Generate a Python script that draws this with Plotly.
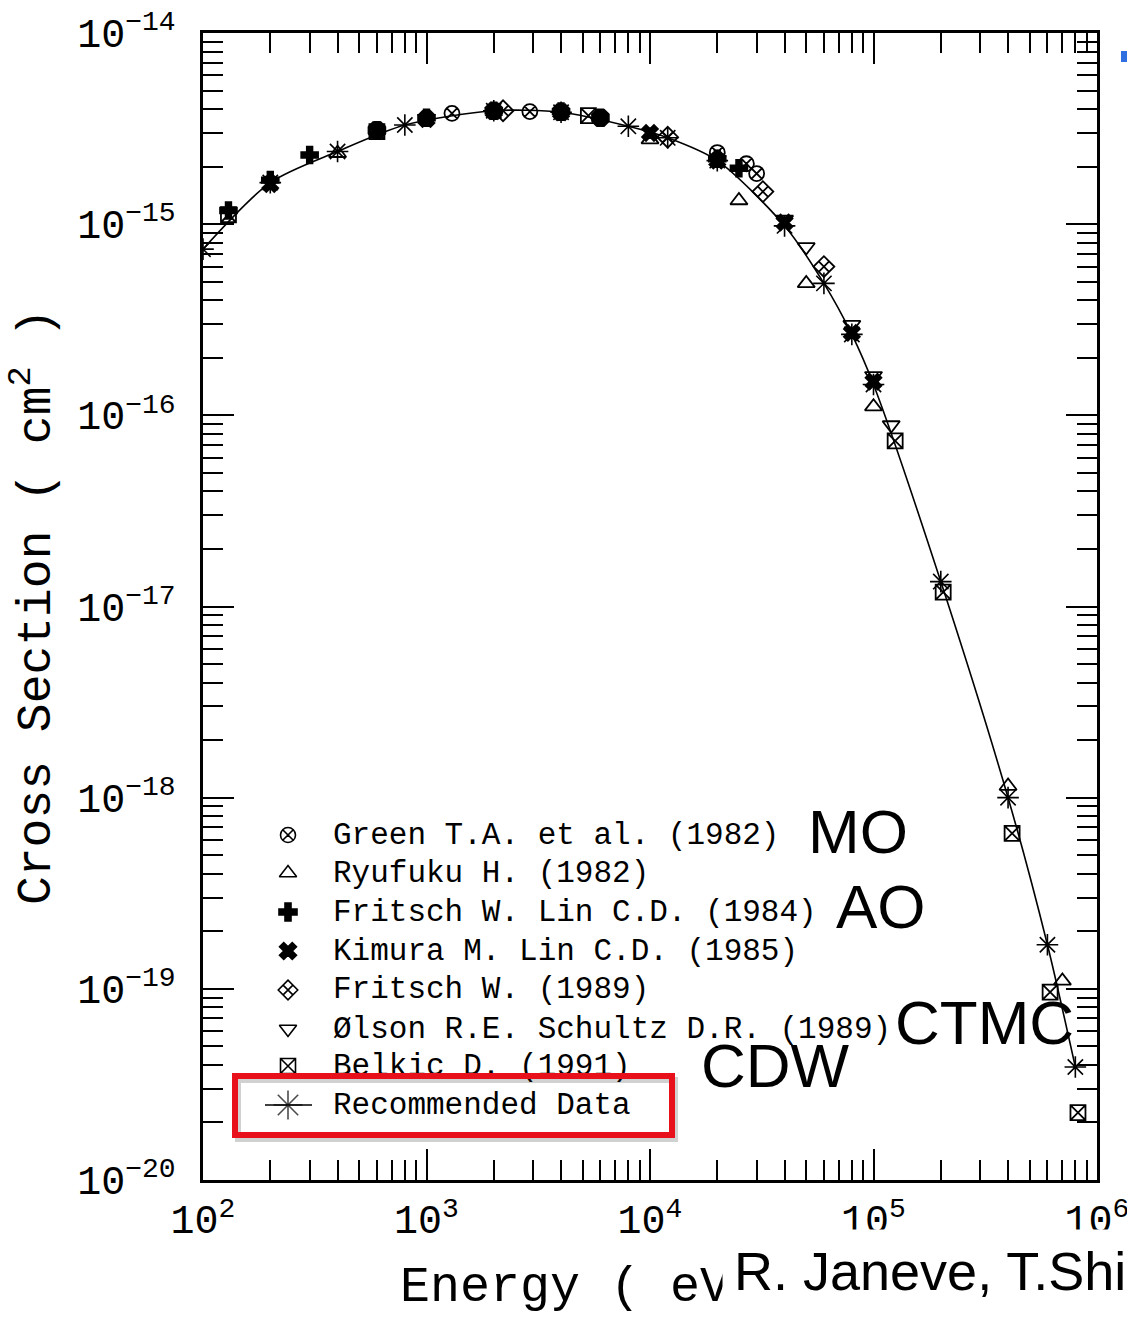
import plotly.graph_objects as go

# ---------------- data ----------------
rec_E = [100, 200, 400, 800, 2000, 4000, 8000, 12000, 20000, 40000, 60000, 80000,
         100000, 200000, 400000, 600000, 800000]
rec_S = [7.4e-16, 1.65e-15, 2.4e-15, 3.3e-15, 3.92e-15, 3.85e-15, 3.25e-15, 2.83e-15,
         2.15e-15, 9.8e-16, 4.9e-16, 2.65e-16, 1.45e-16, 1.35e-17, 1.0e-18, 1.7e-19, 3.9e-20]

green_E = [1300, 2900, 20000, 27000, 30000]
green_S = [3.8e-15, 3.88e-15, 2.37e-15, 2.07e-15, 1.84e-15]

ryu_E = [400, 10000, 25000, 50000, 100000, 400000, 700000]
ryu_S = [2.35e-15, 2.77e-15, 1.33e-15, 4.9e-16, 1.11e-16, 1.15e-18, 1.1e-19]

fl84_E = [130, 200, 300, 600, 1000, 2000, 4000, 6000, 20000, 25000]
fl84_S = [1.18e-15, 1.7e-15, 2.3e-15, 3.1e-15, 3.6e-15, 3.92e-15, 3.88e-15, 3.6e-15, 2.2e-15, 1.96e-15]

km_E = [200, 600, 1000, 2000, 4000, 6000, 10000, 20000, 40000, 80000, 100000]
km_S = [1.62e-15, 3.1e-15, 3.55e-15, 3.9e-15, 3.85e-15, 3.6e-15, 3.0e-15, 2.15e-15,
        1.02e-15, 2.7e-16, 1.5e-16]

fr89_E = [2200, 12000, 32000, 60000]
fr89_S = [3.92e-15, 2.85e-15, 1.48e-15, 6.0e-16]

ol_E = [40000, 50000, 80000, 100000, 120000]
ol_S = [1.06e-15, 7.6e-16, 2.98e-16, 1.61e-16, 8.9e-17]

bk_E = [130, 600, 5300, 125000, 205000, 417000, 617000, 822000]
bk_S = [1.12e-15, 3.05e-15, 3.7e-15, 7.35e-17, 1.19e-17, 6.5e-19, 9.6e-20, 2.25e-20]

legend_labels = ["Green T.A. et al. (1982)", "Ryufuku H. (1982)",
                 "Fritsch W. Lin C.D. (1984)", "Kimura M. Lin C.D. (1985)",
                 "Fritsch W. (1989)", "Ølson R.E. Schultz D.R. (1989)",
                 "Belkic D. (1991)", "Recommended Data"]
legend_symbols = ["circle-x-open", "triangle-up-open", "cross", "x",
                  "diamond-x-open", "triangle-down-open", "square-x-open", "asterisk-open"]

# ---------------- layout helpers (pixel -> paper) ----------------
W, H = 1127, 1318
L, R, T, B = 203, 30, 33, 138
PW, PH = W - L - R, H - T - B


def px(x):
    return (x - L) / PW


def py(y):
    return (H - B - y) / PH


MONO = "Liberation Mono"
SANS = "Liberation Sans"

fig = go.Figure()

series = [
    (green_E, green_S, "circle-x-open", 15),
    (ryu_E, ryu_S, "triangle-up-open", 15),
    (fl84_E, fl84_S, "cross", 14),
    (km_E, km_S, "x", 14),
    (fr89_E, fr89_S, "diamond-x-open", 16),
    (ol_E, ol_S, "triangle-down-open", 15),
    (bk_E, bk_S, "square-x-open", 15),
]
for e, s, sym, sz in series:
    fig.add_trace(go.Scatter(
        x=e, y=s, mode="markers", showlegend=False,
        marker=dict(symbol=sym, size=sz, color="black",
                    line=dict(color="black", width=1.8))))

fig.add_trace(go.Scatter(
    x=rec_E, y=rec_S, mode="lines+markers", showlegend=False,
    line=dict(color="black", width=1.6, shape="spline", smoothing=0.8),
    marker=dict(symbol="asterisk-open", size=18, color="black",
                line=dict(color="black", width=1.6))))

# ---------------- hand-drawn legend (key symbols on an overlay axis) ----------------
row_px = [835, 873, 912, 951, 990, 1029, 1066, 1105]
key_x = px(288)
fig.add_trace(go.Scatter(
    x=[key_x] * 7, y=[py(r) for r in row_px[:7]], xaxis="x2", yaxis="y2",
    mode="markers", showlegend=False, cliponaxis=False,
    marker=dict(symbol=legend_symbols[:7], size=15, color="black",
                line=dict(color="black", width=1.6))))
fig.add_trace(go.Scatter(
    x=[px(265), key_x, px(312)], y=[py(row_px[7])] * 3, xaxis="x2", yaxis="y2",
    mode="lines+markers", showlegend=False, cliponaxis=False,
    line=dict(color="black", width=1.6),
    marker=dict(symbol=["line-ew", "asterisk-open", "line-ew"], size=[0, 24, 0],
                color="black", line=dict(color="black", width=1.6))))

annotations = []
for lab, r in zip(legend_labels, row_px):
    annotations.append(dict(text=lab, x=px(331), y=py(r), xref="paper", yref="paper",
                            xanchor="left", yanchor="middle", showarrow=False,
                            font=dict(family=MONO, size=31, color="black")))

# axis titles
annotations.append(dict(text="Cross Section ( cm<sup>2</sup> )", x=px(33), y=py(607),
                        xref="paper", yref="paper", textangle=-90, showarrow=False,
                        xanchor="center", yanchor="middle",
                        font=dict(family=MONO, size=48, color="black")))
annotations.append(dict(text="Energy ( eV )", x=px(398), y=py(1287),
                        xref="paper", yref="paper", showarrow=False,
                        xanchor="left", yanchor="middle",
                        font=dict(family=MONO, size=50, color="black")))

# big overlay labels
for txt, xl, yc in [("MO", 806, 831), ("AO", 834, 906), ("CTMC", 893, 1022), ("CDW", 699, 1065)]:
    annotations.append(dict(text=txt, x=px(xl), y=py(yc), xref="paper", yref="paper",
                            showarrow=False, xanchor="left", yanchor="middle",
                            font=dict(family=SANS, size=62, color="black")))

annotations.append(dict(text="R. Janeve, T.Shi", x=px(722), y=py(1271), xref="paper",
                        yref="paper", showarrow=False, xanchor="left", yanchor="middle",
                        bgcolor="white", borderpad=11,
                        font=dict(family=SANS, size=54, color="black")))

# red highlight box (shadow + border)
annotations.append(dict(text=" ", x=px(235), y=py(1077), xref="paper", yref="paper",
                        showarrow=False, xanchor="left", yanchor="top",
                        width=431, height=53, borderpad=0, borderwidth=6,
                        bordercolor="rgba(0,0,0,0.18)", bgcolor="rgba(0,0,0,0)"))
annotations.append(dict(text=" ", x=px(232), y=py(1073), xref="paper", yref="paper",
                        showarrow=False, xanchor="left", yanchor="top",
                        width=431, height=53, borderpad=0, borderwidth=6,
                        bordercolor="#e8101a", bgcolor="rgba(0,0,0,0)"))

axis_common = dict(
    type="log", showline=True, linecolor="black", linewidth=3, mirror="allticks",
    ticks="inside", ticklen=31, tickwidth=2, tickcolor="black",
    dtick=1, exponentformat="power", showgrid=False, zeroline=False,
    automargin=False, ticklabeloverflow="allow",
    tickfont=dict(family=MONO, size=32, color="black"),
    minor=dict(ticks="inside", ticklen=20, tickwidth=2, tickcolor="black",
               dtick="D1", showgrid=False),
)

fig.update_layout(
    width=W, height=H, margin=dict(l=L, r=R, t=T, b=B, pad=0, autoexpand=False),
    paper_bgcolor="white", plot_bgcolor="white",
    xaxis=dict(range=[2, 6], ticklabelstandoff=4, **axis_common),
    yaxis=dict(range=[-20, -14], ticklabelstandoff=18, **axis_common),
    xaxis2=dict(range=[0, 1], overlaying="x", visible=False, anchor="y2", automargin=False),
    yaxis2=dict(range=[0, 1], overlaying="y", visible=False, anchor="x2", automargin=False),
    annotations=annotations,
    shapes=[dict(type="rect", xref="paper", yref="paper", x0=px(1121), x1=px(1127),
                 y0=py(62), y1=py(51), fillcolor="#2f6fe0", line=dict(width=0))],
    showlegend=False,
)

fig.write_html("out.html")
